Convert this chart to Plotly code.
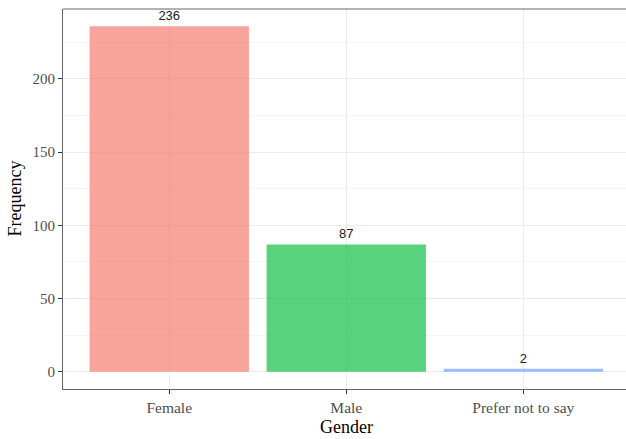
import plotly.graph_objects as go

categories = ["Female", "Male", "Prefer not to say"]
counts = [236, 87, 2]
colors = ["rgba(248,118,109,0.68)", "rgba(0,186,56,0.65)", "rgba(97,156,255,0.65)"]

fig = go.Figure()
fig.add_trace(go.Bar(
    x=categories, y=counts, width=0.9,
    marker=dict(color=colors, line=dict(width=0)),
    text=[str(c) for c in counts], textposition="outside", cliponaxis=False,
    textfont=dict(family="Liberation Sans, Arial", size=13, color="#222222"),
    showlegend=False,
))

serif = "Liberation Serif, Times New Roman"
fig.update_layout(
    width=626, height=439,
    margin=dict(l=63, r=0, t=9, b=50),
    plot_bgcolor="white", paper_bgcolor="white",
    annotations=[
        dict(text="Gender", xref="paper", yref="paper", x=0.503, y=-0.099, yanchor="middle",
             xanchor="center", showarrow=False, font=dict(family=serif, size=18, color="black")),
        dict(text="Frequency", xref="paper", yref="paper", x=-0.086, y=0.5, xanchor="center",
             yanchor="middle", textangle=-90, showarrow=False, font=dict(family=serif, size=18, color="black")),
    ],
    shapes=[
        dict(type="line", xref="paper", yref="paper", x0=0, x1=1, y0=1, y1=1,
             line=dict(color="#666666", width=1.2)),
    ],
)
fig.update_xaxes(
    range=[-0.6, 2.58], automargin=False,
    showline=True, linecolor="#666666", linewidth=1.2, mirror=False,
    ticks="outside", ticklen=4, tickcolor="#333333",
    showgrid=True, gridcolor="#ebebeb", gridwidth=1,
    tickfont=dict(family=serif, size=15.5, color="#4d4d4d"),
)
fig.update_yaxes(
    range=[-11.8, 247.8], automargin=False,
    tickvals=[0, 50, 100, 150, 200],
    showline=True, linecolor="#666666", linewidth=1.2, mirror=False,
    ticks="outside", ticklen=4, tickcolor="#333333",
    showgrid=True, gridcolor="#ebebeb", gridwidth=1,
    minor=dict(dtick=25, tick0=25, showgrid=True, gridcolor="#f5f5f5", gridwidth=1, ticks=""),
    zeroline=False,
    tickfont=dict(family=serif, size=15, color="#4d4d4d"),
)

fig.write_html("out.html", config={"displayModeBar": False},
               post_script="document.body.style.margin='0';document.body.style.overflow='hidden';")
